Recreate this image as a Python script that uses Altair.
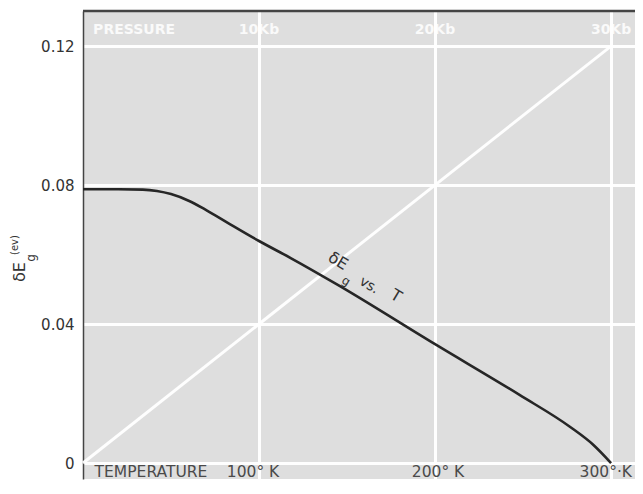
import altair as alt
import pandas as pd

# --- data ---
temps = [0, 20, 34, 42, 50, 60, 70, 82, 100, 118, 145, 200, 248, 277, 290, 300]
delta_eg = [0.0788, 0.0788, 0.0787, 0.0783, 0.0774, 0.0755, 0.0728, 0.0692,
            0.0639, 0.0590, 0.0512, 0.0342, 0.0196, 0.0103, 0.0052, 0.0]

pressure_T = [0, 300]
pressure_dE = [0.0, 0.12]

y_ticks = [0, 0.04, 0.08, 0.12]
x_grid = [100, 200, 300]

pressure_labels = ["PRESSURE", "10Kb", "20Kb", "30Kb"]
pressure_label_T = [29, 100, 200, 300]
pressure_label_v = 0.1246

temp_labels = ["TEMPERATURE", "100° K", "200° K", "300°·K"]
temp_label_T = [38.6, 96.6, 201.7, 297]
temp_label_v = -0.0040

W, H = 552, 468
XS = alt.Scale(domain=[0, 313.6], nice=False, zero=False)
YS = alt.Scale(domain=[-0.0046, 0.1301], nice=False, zero=False)

X_AX = alt.Axis(values=x_grid, grid=True, gridColor="white", gridWidth=3, gridOpacity=0.95,
                labels=False, ticks=False, domain=False, title=None)
Y_AX = alt.Axis(values=y_ticks, grid=True, gridColor="white", gridWidth=3, gridOpacity=0.95,
                ticks=False, domain=True, domainColor="#444", domainWidth=1.5,
                labelFontSize=15, labelColor="#333", labelFont="DejaVu Sans", labelPadding=9,
                labelExpr="datum.value == 0 ? '0' : format(datum.value, '.2f')", title=None)

curve_df = pd.DataFrame({"T": temps, "dE": delta_eg})
press_df = pd.DataFrame({"T": pressure_T, "dE": pressure_dE})

def xy(df_x="T", df_y="dE"):
    return dict(x=alt.X(f"{df_x}:Q", scale=XS, axis=X_AX),
                y=alt.Y(f"{df_y}:Q", scale=YS, axis=Y_AX))

press_line = alt.Chart(press_df).mark_line(color="white", strokeWidth=3, opacity=0.95).encode(**xy())
curve = alt.Chart(curve_df).mark_line(color="#262626", strokeWidth=2.6,
                                      interpolate="monotone").encode(**xy())

top_border = alt.Chart(pd.DataFrame({"a": [0]})).mark_rule(color="#444", strokeWidth=2.5).encode(
    x=alt.value(0), x2=alt.value(W), y=alt.value(0))

layers = [press_line, curve, top_border]

# pressure labels (white text in the top band)
pl_df = pd.DataFrame({"label": pressure_labels, "T": pressure_label_T,
                      "dE": [pressure_label_v] * len(pressure_labels)})
layers.append(alt.Chart(pl_df).mark_text(color="white", fontSize=14, fontWeight="bold",
                                         font="DejaVu Sans", opacity=0.85, baseline="middle").encode(
    text="label:N", **xy()))

# temperature labels along the bottom
tl_df = pd.DataFrame({"label": temp_labels, "T": temp_label_T,
                      "dE": [temp_label_v] * len(temp_labels)})
layers.append(alt.Chart(tl_df).mark_text(color="#4a4a4a", fontSize=15.5,
                                         font="DejaVu Sans", baseline="alphabetic").encode(
    text="label:N", **xy()))

# annotation "δE_g vs. T" along the curve
annot = [("δE", 144.9, 0.0581, 16), ("g", 149.4, 0.0524, 12), ("vs.", 162.5, 0.0511, 14),
         ("T", 177.8, 0.0481, 16)]
for txt, t, v, fs in annot:
    d = pd.DataFrame({"label": [txt], "T": [t], "dE": [v]})
    layers.append(alt.Chart(d).mark_text(color="#333", fontSize=fs, font="DejaVu Sans",
                                         angle=31, baseline="middle").encode(text="label:N", **xy()))

# y-axis title δE_g(ev), rotated
ytitle = [("δE", -63, 261, 16), ("g", -52, 247, 12), ("(ev)", -68, 234, 10)]
for txt, px, py, fs in ytitle:
    d = pd.DataFrame({"label": [txt]})
    layers.append(alt.Chart(d).mark_text(color="#333", fontSize=fs, font="DejaVu Sans",
                                         angle=270, baseline="middle").encode(
        text="label:N", x=alt.value(px), y=alt.value(py)))

chart = alt.layer(*layers).properties(
    width=W, height=H,
    autosize=alt.AutoSizeParams(type="none"),
    padding={"left": 75, "top": 3, "right": 0, "bottom": 2},
    background="white",
).configure_view(fill="#dedede", strokeWidth=0)

chart.save("out.html", embed_options={"renderer": "svg", "actions": False})
